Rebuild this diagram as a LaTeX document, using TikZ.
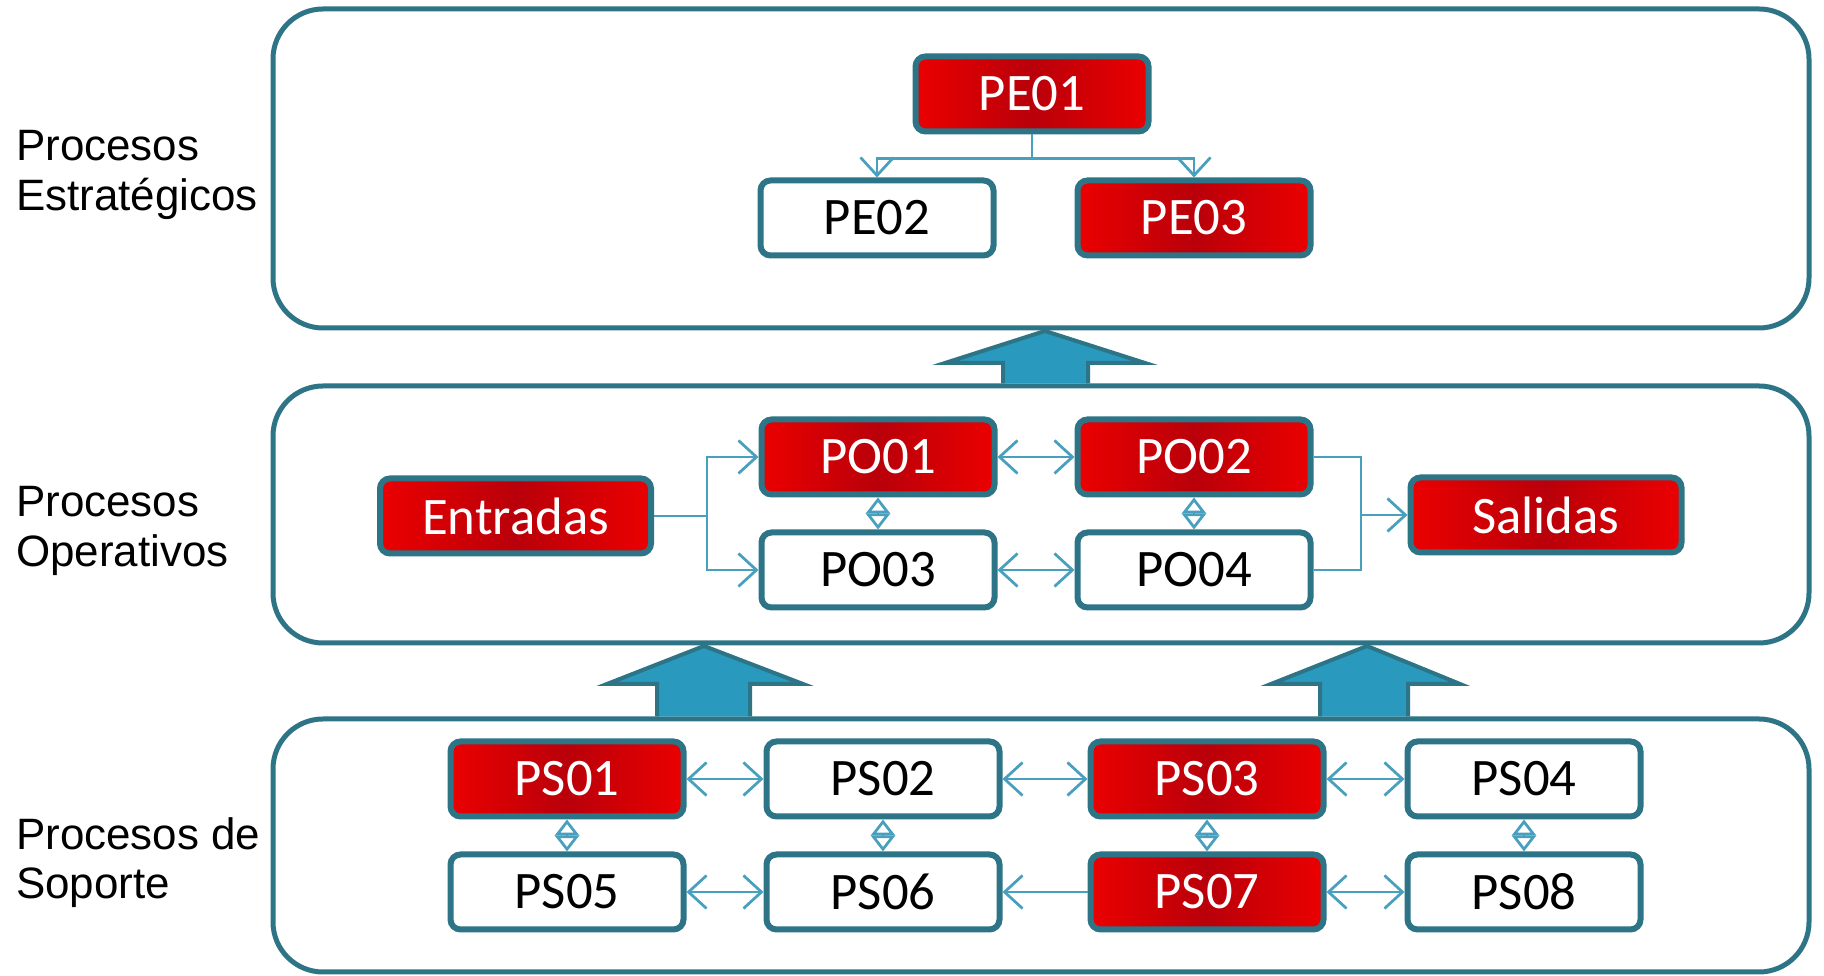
\documentclass[tikz,border=0pt]{standalone}
\usepackage{fontspec}
\setmainfont{Carlito}
\newfontfamily\arialfont{Liberation Sans}
\usetikzlibrary{arrows.meta}

\definecolor{frameteal}{RGB}{46,116,135}
\definecolor{arrowblue}{RGB}{42,153,190}
\definecolor{linkblue}{RGB}{72,160,190}
\definecolor{redlight}{RGB}{235,0,0}
\definecolor{reddark}{RGB}{185,0,10}

\begin{document}
\begin{tikzpicture}[
  panel/.style={draw=frameteal, line width=0.1cm, rounded corners=1cm, fill=white},
  box/.style={draw=frameteal, line width=0.12cm, rounded corners=0.2cm,
    minimum width=4.66cm, minimum height=1.5cm, inner sep=0pt,
    font=\fontsize{30}{36}\selectfont},
  whitebox/.style={box, fill=white, text=black},
  redbox/.style={box, left color=redlight, right color=redlight, middle color=reddark, text=white},
  wide/.style={minimum width=5.42cm},
  sidelabel/.style={anchor=west, align=left, font=\arialfont\fontsize{25}{28}\selectfont},
  bigarrow/.style={fill=arrowblue, draw=frameteal, line width=0.08cm},
  link/.style={draw=linkblue, line width=0.055cm},
  chev/.tip={Straight Barb[length=0.36cm, width=0.66cm]},
  dia/.tip={Triangle[open, length=0.32cm, width=0.48cm]}
]

\fill[white] (0,0) rectangle (36.48,19.52);
\useasboundingbox (0,0) rectangle (36.48,19.52);

% panels
\draw[panel] (5.46,12.96) rectangle (36.18,19.34);
\draw[panel] (5.46,6.66) rectangle (36.18,11.8);
\draw[panel] (5.46,0.08) rectangle (36.18,5.14);

% big arrows between panels
\draw[bigarrow] (20.06,11.85) -- (20.06,12.26) -- (18.9,12.26) -- (20.9,12.9)
  -- (22.9,12.26) -- (21.76,12.26) -- (21.76,11.85);
\draw[bigarrow] (13.14,5.19) -- (13.14,5.84) -- (12.14,5.84) -- (14.08,6.6)
  -- (16.06,5.84) -- (15.0,5.84) -- (15.0,5.19);
\draw[bigarrow] (26.4,5.19) -- (26.4,5.84) -- (25.42,5.84) -- (27.34,6.6)
  -- (29.2,5.84) -- (28.16,5.84) -- (28.16,5.19);

% side labels
\node[sidelabel] (estrat) at (0.2,16.02) {Procesos\\Estratégicos};
\node[sidelabel] (operat) at (0.2,8.9) {Procesos\\Operativos};
\node[sidelabel] (soport) at (0.2,2.26) {Procesos de\\Soporte};

% estrategicos
\node[redbox] (pe01) at (20.64,17.64) {PE01};
\node[whitebox] (pe02) at (17.54,15.16) {PE02};
\node[redbox] (pe03) at (23.88,15.16) {PE03};

\draw[link,-chev] (pe01.south) -- ++(0,-0.48) -| (pe02.north);
\draw[link,-chev] (pe01.south) -- ++(0,-0.48) -| (pe03.north);

% operativos
\node[redbox,wide] (entradas) at (10.31,9.2) {Entradas};
\node[redbox] (po01) at (17.56,10.38) {PO01};
\node[redbox] (po02) at (23.88,10.38) {PO02};
\node[whitebox] (po03) at (17.56,8.12) {PO03};
\node[whitebox] (po04) at (23.88,8.12) {PO04};
\node[redbox,wide] (salidas) at (30.92,9.22) {Salidas};

\draw[link,-chev] (entradas.east) -- ++(1.06,0) |- (po01.west);
\draw[link,-chev] (entradas.east) -- ++(1.06,0) |- (po03.west);
\draw[link,chev-chev] (po01.east) -- (po02.west);
\draw[link,chev-chev] (po03.east) -- (po04.west);
\draw[link,dia-dia] (po01.south) -- (po03.north);
\draw[link,dia-dia] (po02.south) -- (po04.north);

\coordinate (join) at (27.22,9.22);
\draw[link] (po02.east) -| (join) |- (po04.east);
\draw[link,-chev] (join) -- (salidas.west);

% soporte
\node[redbox] (ps01) at (11.34,3.94) {PS01};
\node[whitebox] (ps02) at (17.66,3.94) {PS02};
\node[redbox] (ps03) at (24.14,3.94) {PS03};
\node[whitebox] (ps04) at (30.48,3.94) {PS04};
\node[whitebox] (ps05) at (11.34,1.68) {PS05};
\node[whitebox] (ps06) at (17.66,1.68) {PS06};
\node[redbox] (ps07) at (24.14,1.68) {PS07};
\node[whitebox] (ps08) at (30.48,1.68) {PS08};

\draw[link,chev-chev] (ps01.east) -- (ps02.west);
\draw[link,chev-chev] (ps02.east) -- (ps03.west);
\draw[link,chev-chev] (ps03.east) -- (ps04.west);
\draw[link,chev-chev] (ps05.east) -- (ps06.west);
\draw[link,-chev] (ps07.west) -- (ps06.east);
\draw[link,chev-chev] (ps07.east) -- (ps08.west);
\draw[link,dia-dia] (ps01.south) -- (ps05.north);
\draw[link,dia-dia] (ps02.south) -- (ps06.north);
\draw[link,dia-dia] (ps03.south) -- (ps07.north);
\draw[link,dia-dia] (ps04.south) -- (ps08.north);

\end{tikzpicture}
\end{document}
